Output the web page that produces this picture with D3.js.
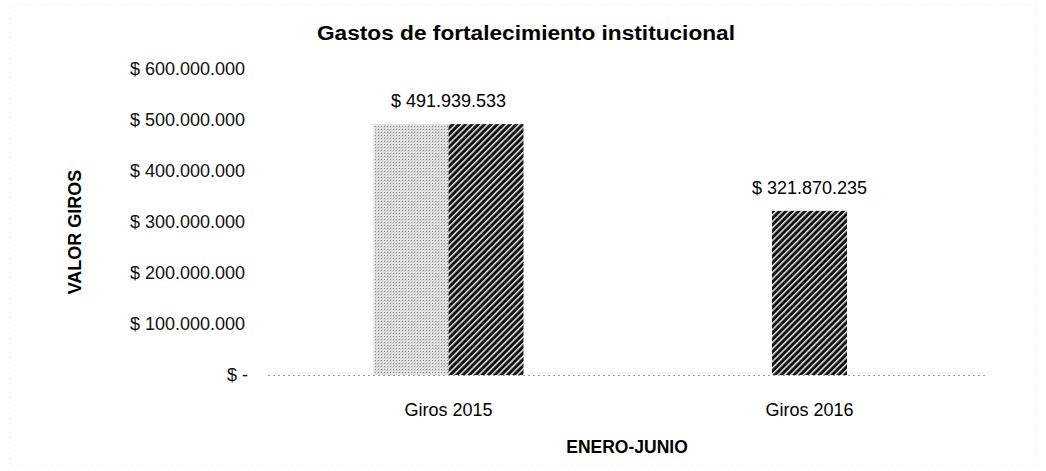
<!DOCTYPE html>
<html>
<head>
<meta charset="utf-8">
<script src="https://cdn.jsdelivr.net/npm/d3@7"></script>
<style>
  body { margin: 0; background: #fff; }
  svg { font-family: "Liberation Sans", Arial, sans-serif; }
</style>
</head>
<body>
<svg id="chart" width="1046" height="471"></svg>
<script>
const categories = ["Giros 2015", "Giros 2016"];
const seriesLight = [491939533, null];   // stippled half, only 2015
const seriesHatch = [491939533, 321870235];
const valueLabels = ["$ 491.939.533", "$ 321.870.235"];
const yTicks = [0, 100000000, 200000000, 300000000, 400000000, 500000000, 600000000];

const svg = d3.select("#chart");
const margin = {top: 69, left: 268, right: 56, bottom: 96};
const W = 1046, H = 471;

const x = d3.scaleBand().domain(categories).range([margin.left, W - margin.right]);
const y = d3.scaleLinear().domain([0, 600000000]).range([H - margin.bottom, margin.top]);
const barW = 75;

  // patterns: dark diagonal hatch and light stipple
const defs = svg.append("defs");
const hatch = defs.append("pattern")
    .attr("id", "hatch")
    .attr("patternUnits", "userSpaceOnUse")
    .attr("width", 4.5).attr("height", 4.5)
    .attr("patternTransform", "rotate(45)");
hatch.append("rect").attr("width", 4.5).attr("height", 4.5).attr("fill", "#111");
hatch.append("rect").attr("x", 0).attr("width", 1.5).attr("height", 4.5).attr("fill", "#e8e8e8");

const stip = defs.append("pattern")
    .attr("id", "stipple")
    .attr("patternUnits", "userSpaceOnUse")
    .attr("width", 3).attr("height", 3);
stip.append("rect").attr("width", 3).attr("height", 3).attr("fill", "#dadada");
stip.append("rect").attr("width", 1).attr("height", 1).attr("fill", "#8f8f8f");
stip.append("rect").attr("x", 2).attr("y", 2).attr("width", 1).attr("height", 1).attr("fill", "#f6f6f6");

  // faint chart border
svg.append("rect")
    .attr("x", 10.5).attr("y", 4.5).attr("width", W - 21).attr("height", H - 9)
    .attr("fill", "none").attr("stroke", "#e2e2e2").attr("stroke-dasharray", "1,4");

  // title
svg.append("text")
    .attr("x", 526).attr("y", 40)
    .attr("text-anchor", "middle")
    .attr("textLength", 418).attr("lengthAdjust", "spacingAndGlyphs")
    .style("font-size", "20px").style("font-weight", "bold")
    .text("Gastos de fortalecimiento institucional");

  // y axis labels
const yAxis = svg.append("g");
yAxis.selectAll("text")
    .data(yTicks)
    .join("text")
    .attr("x", d => d === 0 ? 248 : 245)
    .attr("y", d => y(d))
    .attr("dy", "0.35em")
    .attr("text-anchor", "end")
    .style("font-size", "18px")
    .style("fill", "#111")
    .text(d => d === 0 ? "$ -" : "$ " + d3.format(",")(d).replace(/,/g, "."));

svg.append("text")
    .attr("transform", "translate(81," + 232 + ") rotate(-90)")
    .attr("text-anchor", "middle")
    .style("font-size", "18px").style("font-weight", "bold")
    .text("VALOR GIROS");

  // baseline
svg.append("line")
    .attr("x1", margin.left).attr("x2", W - margin.right - 4)
    .attr("y1", y(0) + 0.5).attr("y2", y(0) + 0.5)
    .attr("stroke", "#999").attr("stroke-dasharray", "2,3");

  // bars
const bars = svg.append("g");
categories.forEach(function(cat, i) {
  const parts = [];
  if (seriesLight[i] != null) parts.push({v: seriesLight[i], fill: "url(#stipple)"});
  if (seriesHatch[i] != null) parts.push({v: seriesHatch[i], fill: "url(#hatch)"});
  const cx = x(cat) + x.bandwidth() / 2;
  const x0 = cx - parts.length * barW / 2;
  bars.selectAll("rect.c" + i)
      .data(parts)
      .join("rect")
      .attr("class", "c" + i)
      .attr("x", (d, j) => x0 + j * barW)
      .attr("y", d => y(d.v))
      .attr("width", barW)
      .attr("height", d => y(0) - y(d.v))
      .attr("fill", d => d.fill);

  svg.append("text")
      .attr("x", cx).attr("y", y(seriesHatch[i]) - 17)
      .attr("text-anchor", "middle")
      .style("font-size", "18px")
      .text(valueLabels[i]);

  svg.append("text")
      .attr("x", cx).attr("y", 416)
      .attr("text-anchor", "middle")
      .style("font-size", "18px")
      .text(cat);
});

svg.append("text")
    .attr("x", 627).attr("y", 453)
    .attr("text-anchor", "middle")
    .style("font-size", "17.5px").style("font-weight", "bold")
    .text("ENERO-JUNIO");
</script>
</body>
</html>
